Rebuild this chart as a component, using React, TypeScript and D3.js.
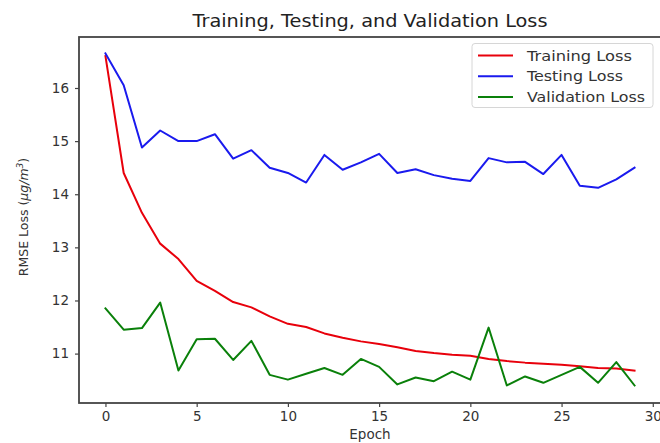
import React, { useEffect, useRef } from "react";
import * as d3 from "d3";

const epochs = d3.range(0, 30);
const trainingLoss = [16.6, 14.4, 13.65, 13.07, 12.78, 12.37, 12.18, 11.97, 11.87, 11.7,
  11.56, 11.5, 11.38, 11.3, 11.23, 11.18, 11.12, 11.05, 11.01, 10.98,
  10.96, 10.9, 10.86, 10.83, 10.81, 10.79, 10.76, 10.73, 10.72, 10.68];
const testingLoss = [16.65, 16.05, 14.88, 15.2, 15.0, 15.0, 15.13, 14.67, 14.83, 14.5,
  14.4, 14.22, 14.74, 14.46, 14.6, 14.76, 14.4, 14.47, 14.36, 14.29,
  14.25, 14.68, 14.6, 14.61, 14.38, 14.74, 14.16, 14.12, 14.28, 14.5];
const validationLoss = [11.85, 11.45, 11.48, 11.96, 10.68, 11.27, 11.28, 10.88, 11.24, 10.6,
  10.51, 10.62, 10.73, 10.6, 10.9, 10.75, 10.42, 10.55, 10.48, 10.66,
  10.51, 11.49, 10.4, 10.57, 10.45, 10.6, 10.75, 10.45, 10.84, 10.4];
const xTicks = [0, 5, 10, 15, 20, 25, 30];
const yTicks = [11, 12, 13, 14, 15, 16];

const seriesList = [
  { name: "Training Loss", values: trainingLoss, color: "#e8000b", len: 105 },
  { name: "Testing Loss", values: testingLoss, color: "#1a1aee", len: 96 },
  { name: "Validation Loss", values: validationLoss, color: "#0a800a", len: 118 },
];

export default function App() {
  const ref = useRef<HTMLDivElement>(null);

  useEffect(() => {
    document.body.style.margin = "0";
    const root = d3.select(ref.current);
    root.selectAll("*").remove();

    const width = 660, height = 443;
    const left = 79, right = 661, top = 37, bottom = 403;
    const font = "DejaVu Sans";

    const svg = root.append("svg").attr("width", width).attr("height", height)
      .style("display", "block").style("font-family", font);
    svg.append("rect").attr("width", width).attr("height", height).attr("fill", "#fff");

    const x = d3.scaleLinear().domain([-1.45, 30.45]).range([left, right]);
    const y = d3.scaleLinear().domain([10.07, 16.96]).range([bottom, top]);

    // lines
    const line = d3.line<number>().x((_, i) => x(epochs[i])).y((d) => y(d));
    seriesList.forEach((s) => {
      svg.append("path").datum(s.values).attr("d", line)
        .attr("fill", "none").attr("stroke", s.color).attr("stroke-width", 2)
        .attr("stroke-linejoin", "round").attr("stroke-linecap", "square");
    });

    // spines
    const axisColor = "#444";
    svg.append("rect").attr("x", left).attr("y", top)
      .attr("width", right - left).attr("height", bottom - top)
      .attr("fill", "none").attr("stroke", axisColor).attr("stroke-width", 1.8);

    // x axis
    const xAxis = svg.append("g").attr("transform", `translate(0,${bottom})`)
      .call(d3.axisBottom(x).tickValues(xTicks).tickFormat(d3.format("d")).tickSize(4).tickPadding(4));
    xAxis.select(".domain").remove();
    xAxis.selectAll("line").attr("stroke", axisColor).attr("stroke-width", 1.2);
    xAxis.selectAll("text").attr("font-size", 13.5).attr("fill", "#333").attr("font-family", font);

    // y axis
    const yAxis = svg.append("g").attr("transform", `translate(${left},0)`)
      .call(d3.axisLeft(y).tickValues(yTicks).tickFormat(d3.format("d")).tickSize(4).tickPadding(6));
    yAxis.select(".domain").remove();
    yAxis.selectAll("line").attr("stroke", axisColor).attr("stroke-width", 1.2);
    yAxis.selectAll("text").attr("font-size", 13.5).attr("fill", "#333").attr("font-family", font);

    // title
    svg.append("text").attr("x", 370).attr("y", 27)
      .attr("text-anchor", "middle").attr("font-size", 17.5).attr("fill", "#222")
      .attr("textLength", 355).attr("lengthAdjust", "spacingAndGlyphs")
      .text("Training, Testing, and Validation Loss");

    // axis labels
    svg.append("text").attr("x", 370).attr("y", 439)
      .attr("text-anchor", "middle").attr("font-size", 13.5).attr("fill", "#333")
      .text("Epoch");

    const yl = svg.append("text")
      .attr("transform", `translate(28,${(top + bottom) / 2 - 3}) rotate(-90)`)
      .attr("text-anchor", "middle").attr("font-size", 12.5).attr("fill", "#333");
    yl.append("tspan").text("RMSE Loss (");
    yl.append("tspan").attr("font-style", "italic").text("μg/m");
    yl.append("tspan").attr("font-size", 9).attr("dy", -5).attr("font-style", "italic").text("3");
    yl.append("tspan").attr("dy", 5).text(")");

    // legend
    const lg = svg.append("g");
    lg.append("rect").attr("x", 472).attr("y", 43.5).attr("width", 181).attr("height", 64)
      .attr("rx", 3).attr("fill", "#fff").attr("stroke", "#d6d6d6").attr("stroke-width", 1);
    seriesList.forEach((s, i) => {
      const yy = 55.5 + i * 20.7;
      lg.append("line").attr("x1", 478).attr("x2", 513).attr("y1", yy).attr("y2", yy)
        .attr("stroke", s.color).attr("stroke-width", 2);
      lg.append("text").attr("x", 527).attr("y", yy + 5).attr("font-size", 14)
        .attr("textLength", s.len).attr("lengthAdjust", "spacingAndGlyphs")
        .attr("fill", "#333").text(s.name);
    });
  }, []);

  return <div ref={ref} style={{ width: 660, height: 443 }}></div>;
}
